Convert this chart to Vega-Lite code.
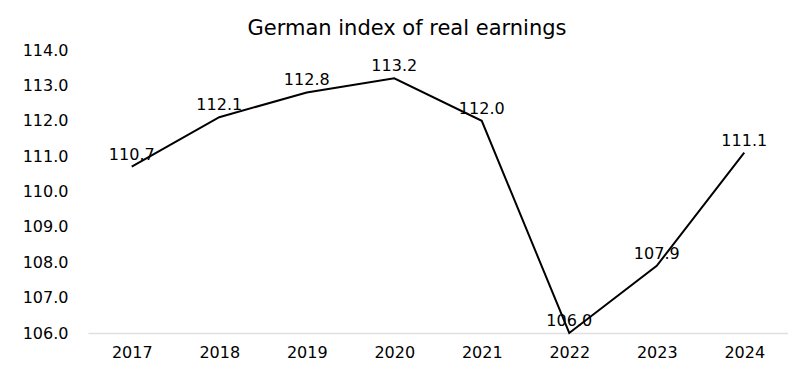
{
  "$schema": "https://vega.github.io/schema/vega-lite/v6.json",
  "autosize": {"type": "none"},
  "padding": {"left": 88, "top": 50, "right": 0, "bottom": 34},
  "width": 700,
  "height": 283,
  "background": "white",
  "title": {"text": "German index of real earnings", "font": "DejaVu Sans", "fontSize": 21, "fontWeight": "normal", "color": "#000000", "anchor": "middle", "offset": 3, "dx": -31},
  "config": {"view": {"stroke": null}, "font": "DejaVu Sans"},
  "data": {"values": [
    {"year": "2017", "value": 110.7},
    {"year": "2018", "value": 112.1},
    {"year": "2019", "value": 112.8},
    {"year": "2020", "value": 113.2},
    {"year": "2021", "value": 112.0},
    {"year": "2022", "value": 106.0},
    {"year": "2023", "value": 107.9},
    {"year": "2024", "value": 111.1}
  ]},
  "encoding": {
    "x": {"field": "year", "type": "ordinal", "title": null, "scale": {"paddingInner": 0, "paddingOuter": 0},
      "axis": {"labelAngle": 0, "labelFontSize": 16, "labelColor": "#000000", "ticks": false, "domainColor": "#e0e0e0", "domainWidth": 1.5, "labelPadding": 11, "grid": false}},
    "y": {"field": "value", "type": "quantitative", "title": null, "scale": {"domain": [106, 114], "zero": false, "nice": false},
      "axis": {"values": [106, 107, 108, 109, 110, 111, 112, 113, 114], "format": ".1f", "labelFontSize": 16, "labelColor": "#000000", "ticks": false, "domain": false, "grid": false, "labelPadding": 20}}
  },
  "layer": [
    {"mark": {"type": "line", "color": "#000000", "strokeWidth": 2}},
    {"mark": {"type": "text", "fontSize": 16, "color": "#000000", "baseline": "bottom", "dy": -4}, "encoding": {"text": {"field": "value", "type": "quantitative", "format": ".1f"}}}
  ]
}
